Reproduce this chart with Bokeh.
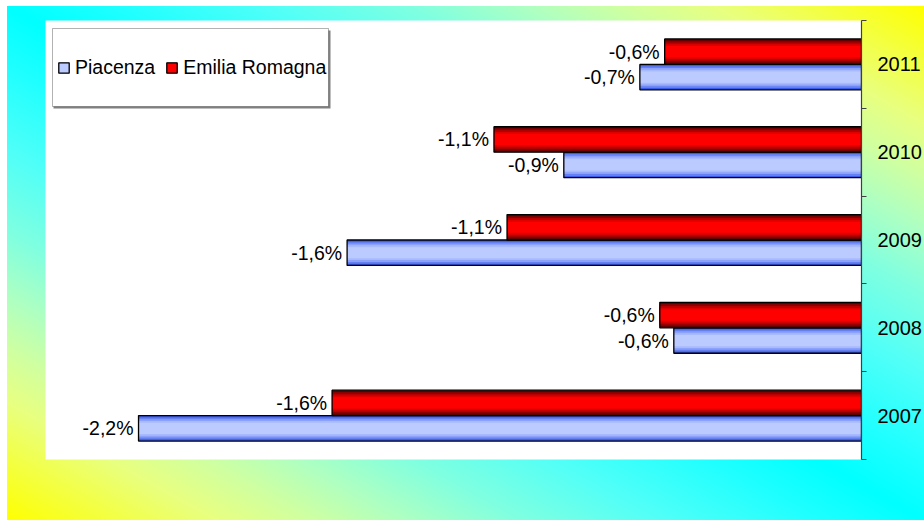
from bokeh.plotting import figure
from bokeh.models import (Range1d, LinearAxis, FixedTicker, Legend, LegendItem,
                          BoxAnnotation, ColumnDataSource)
from bokeh.core.properties import value
from bokeh.embed import file_html
from bokeh.resources import INLINE

# ---- data ----
years = ["2007", "2008", "2009", "2010", "2011"]
piacenza = [-2.215, -0.575, -1.576, -0.912, -0.679]
emilia_romagna = [-1.622, -0.618, -1.086, -1.126, -0.603]
series_names = ["Piacenza", "Emilia Romagna"]


def fmt(v):
    return f"{v:.1f}".replace(".", ",") + "%"


centers = [i + 0.5 for i in range(len(years))]
bar_h = 0.29
off = 0.145

src = ColumnDataSource(dict(
    y_p=[c - off for c in centers],
    y_e=[c + off for c in centers],
    p=piacenza,
    e=emilia_romagna,
    lab_p=[fmt(v) for v in piacenza],
    lab_e=[fmt(v) for v in emilia_romagna],
))

# page background: mirrored diagonal yellow / cyan gradient
stops = [(0.0, "#ffff00"), (11.5, "#e8ff80"), (16.5, "#d0ffa0"), (21.5, "#b0ffc0"),
         (28.0, "#80ffe0"), (36.0, "#50fff8"), (44.0, "#20ffff"), (50.0, "#00ffff")]
all_stops = stops + [(100 - s, c) for s, c in reversed(stops[:-1])]
grad = ", ".join(f"{c} {s:.1f}%" for s, c in all_stops)
bg = (f"linear-gradient(to top right, {grad}) "
      "7px 6px / 917px 514px no-repeat, #ffffff")

p = figure(width=924, height=524, x_range=Range1d(-2.5, 0), y_range=Range1d(0, len(years)),
           output_backend="svg", toolbar_location=None,
           x_axis_type=None, y_axis_type=None,
           min_border_left=45, min_border_right=62, min_border_top=20, min_border_bottom=65,
           background_fill_color="white", border_fill_alpha=0, outline_line_color=None,
           styles={"background": bg})
p.grid.visible = False

# bar "gradient" layers: (height fraction, colour) from edge to centre
red_layers = [(1.0, "#5a0000"), (0.86, "#8a0000"), (0.72, "#b80000"), (0.58, "#e00000"), (0.44, "#ff0000")]
blue_layers = [(1.0, "#3a5ae8"), (0.86, "#6480f2"), (0.72, "#8ca2f8"), (0.58, "#a8bafe"), (0.44, "#bccbff")]

blue_r = []
for frac, col in blue_layers:
    blue_r.append(p.hbar(y="y_p", left="p", right=0, height=bar_h * frac, source=src,
                         fill_color=col, line_color=None))
blue_out = p.hbar(y="y_p", left="p", right=0, height=bar_h, source=src,
                  fill_alpha=0, line_color="black", line_width=1.3)

red_r = []
for frac, col in red_layers:
    red_r.append(p.hbar(y="y_e", left="e", right=0, height=bar_h * frac, source=src,
                        fill_color=col, line_color=None))
red_out = p.hbar(y="y_e", left="e", right=0, height=bar_h, source=src,
                 fill_alpha=0, line_color="black", line_width=1.3)

# data labels
for ycol, xcol, lcol in (("y_p", "p", "lab_p"), ("y_e", "e", "lab_e")):
    p.text(x=xcol, y=ycol, text=lcol, source=src, text_align="right", text_baseline="middle",
           x_offset=-5, text_font=value("Liberation Sans"), text_font_size="19.5px",
           text_color="black")

# right axis with year labels, ticks between categories
ax = LinearAxis(ticker=FixedTicker(ticks=centers, minor_ticks=list(range(len(years) + 1))),
                major_label_overrides={c: y for c, y in zip(centers, years)},
                major_tick_line_color=None, major_tick_out=0, major_tick_in=0,
                minor_tick_out=5, minor_tick_in=0, minor_tick_line_color="#404040",
                axis_line_color="#404040", axis_line_width=1.2, major_label_standoff=11,
                major_label_text_font="Liberation Sans", major_label_text_font_size="20px",
                major_label_text_color="black")
p.add_layout(ax, "right")

# legend box
shadow = BoxAnnotation(left=53, right=330, top=30, bottom=108,
                       left_units="canvas", right_units="canvas", top_units="canvas", bottom_units="canvas",
                       fill_color="#808080", fill_alpha=1, line_color=None)
box = BoxAnnotation(left=52, right=328, top=28, bottom=106,
                    left_units="canvas", right_units="canvas", top_units="canvas", bottom_units="canvas",
                    fill_color="white", fill_alpha=1, line_color="black", line_width=1)
p.add_layout(shadow)
p.add_layout(box)

legend = Legend(items=[LegendItem(label=series_names[0], renderers=[blue_r[0], blue_r[-1], blue_out]),
                       LegendItem(label=series_names[1], renderers=[red_r[0], red_r[-1], red_out])],
                orientation="horizontal", location=(12, 380), glyph_width=13, glyph_height=13,
                label_standoff=5, spacing=10, padding=0, margin=0,
                border_line_alpha=0, background_fill_alpha=0,
                label_text_font="Liberation Sans", label_text_font_size="19.5px",
                label_text_color="black")
p.add_layout(legend)

open("out.html", "w").write(file_html(p, INLINE))
